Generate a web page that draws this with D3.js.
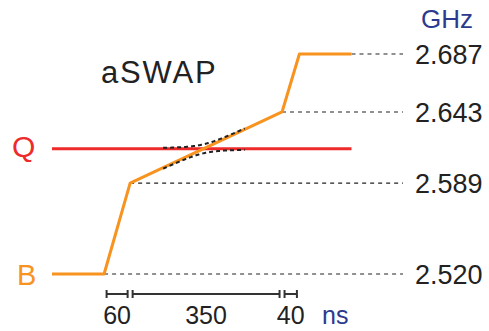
<!DOCTYPE html>
<html><head><meta charset="utf-8">
<script src="https://cdn.jsdelivr.net/npm/d3@7"></script>
<style>body{margin:0;background:#fff}svg{display:block}</style>
</head><body>
<script>
// Data
const bTimes = [-120, 0, 60, 410, 450, 570];          // ns
const bFreqs = [2.520, 2.520, 2.589, 2.643, 2.687, 2.687]; // GHz
const qFreq = 2.615;
const qTimes = [-120, 570];
const levelTicks = [2.520, 2.589, 2.643, 2.687];
const levelStartTimes = [0, 60, 410, 570];
const durations = [60, 350, 40];
const coupling = 0.0034;
const crossTimes = [136, 325];

const W = 489, H = 331;
const svg = d3.select("body").append("svg").attr("width", W).attr("height", H);
const x = d3.scaleLinear().domain([-120, 570]).range([52, 351.5]);
const y = d3.scaleLinear().domain([2.520, 2.687]).range([274, 54]);
const dashEnd = 403;
const font = "Liberation Sans, Arial, Helvetica, sans-serif";

// dashed guide lines
svg.append("g").selectAll("line").data(levelTicks).join("line")
  .attr("x1", (d, i) => x(levelStartTimes[i])).attr("x2", dashEnd)
  .attr("y1", d => y(d)).attr("y2", d => y(d))
  .attr("stroke", "#222").attr("stroke-width", 1.1).attr("stroke-dasharray", "4,4");

// tick labels
svg.append("g").selectAll("text").data(levelTicks).join("text")
  .attr("x", 415).attr("y", d => y(d) + 10)
  .attr("font-family", font).attr("font-size", 27).attr("fill", "#222")
  .text(d => d3.format(".3f")(d));

svg.append("text").attr("x", 421).attr("y", 28).attr("font-family", font)
  .attr("font-size", 26).attr("fill", "#2b3a8f").text("GHz");

// Q line
svg.append("path").datum(qTimes)
  .attr("d", d3.line().x(t => x(t)).y(() => y(qFreq)))
  .attr("stroke", "#ee2a2a").attr("stroke-width", 3).attr("fill", "none");

// B trajectory
const pts = bTimes.map((t, i) => [t, bFreqs[i]]);
svg.append("path").datum(pts)
  .attr("d", d3.line().x(d => x(d[0])).y(d => y(d[1])))
  .attr("stroke", "#f7931e").attr("stroke-width", 3).attr("fill", "none")
  .attr("stroke-linejoin", "round");

// avoided crossing branches
const fB = t => d3.scaleLinear().domain(bTimes).range(bFreqs)(t);
const ts = d3.range(crossTimes[0], crossTimes[1] + 0.1, 2);
[1, -1].forEach(s => {
  const data = ts.map(t => {
    const m = (fB(t) + qFreq) / 2, d = (fB(t) - qFreq) / 2;
    return [t, m + s * Math.sqrt(d * d + coupling * coupling)];
  });
  svg.append("path").datum(data)
    .attr("d", d3.line().x(d => x(d[0])).y(d => y(d[1])))
    .attr("stroke", "#222").attr("stroke-width", 2).attr("stroke-dasharray", "4,3")
    .attr("fill", "none");
});

// labels
svg.append("text").attr("x", 101).attr("y", 83).attr("font-family", font)
  .attr("font-size", 31).attr("letter-spacing", 1.8).attr("fill", "#222").text("aSWAP");
svg.append("text").attr("x", 12).attr("y", 157).attr("font-family", font)
  .attr("font-size", 30).attr("fill", "#ee2a2a").text("Q");
svg.append("text").attr("x", 17).attr("y", 285).attr("font-family", font)
  .attr("font-size", 29).attr("fill", "#f7931e").text("B");

// duration scale bars
let acc = 0;
const bars = durations.map(d => { const s = acc; acc += d; return [s, acc, d]; });
const by = 294, gap = 2.5;
const bg = svg.append("g").attr("stroke", "#333").attr("stroke-width", 2);
bars.forEach(([s, e]) => {
  const x1 = x(s) + gap, x2 = x(e) - gap;
  bg.append("line").attr("x1", x1).attr("x2", x2).attr("y1", by).attr("y2", by);
  bg.append("line").attr("x1", x1).attr("x2", x1).attr("y1", by - 4).attr("y2", by + 4);
  bg.append("line").attr("x1", x2).attr("x2", x2).attr("y1", by - 4).attr("y2", by + 4);
});
svg.append("g").selectAll("text").data(bars).join("text")
  .attr("x", d => (x(d[0]) + x(d[1])) / 2).attr("y", 324)
  .attr("text-anchor", "middle").attr("font-family", font).attr("font-size", 25)
  .attr("fill", "#222").text(d => d[2]);
svg.append("text").attr("x", 322).attr("y", 324).attr("font-family", font)
  .attr("font-size", 25).attr("fill", "#2b3a8f").text("ns");
</script>
</body></html>
